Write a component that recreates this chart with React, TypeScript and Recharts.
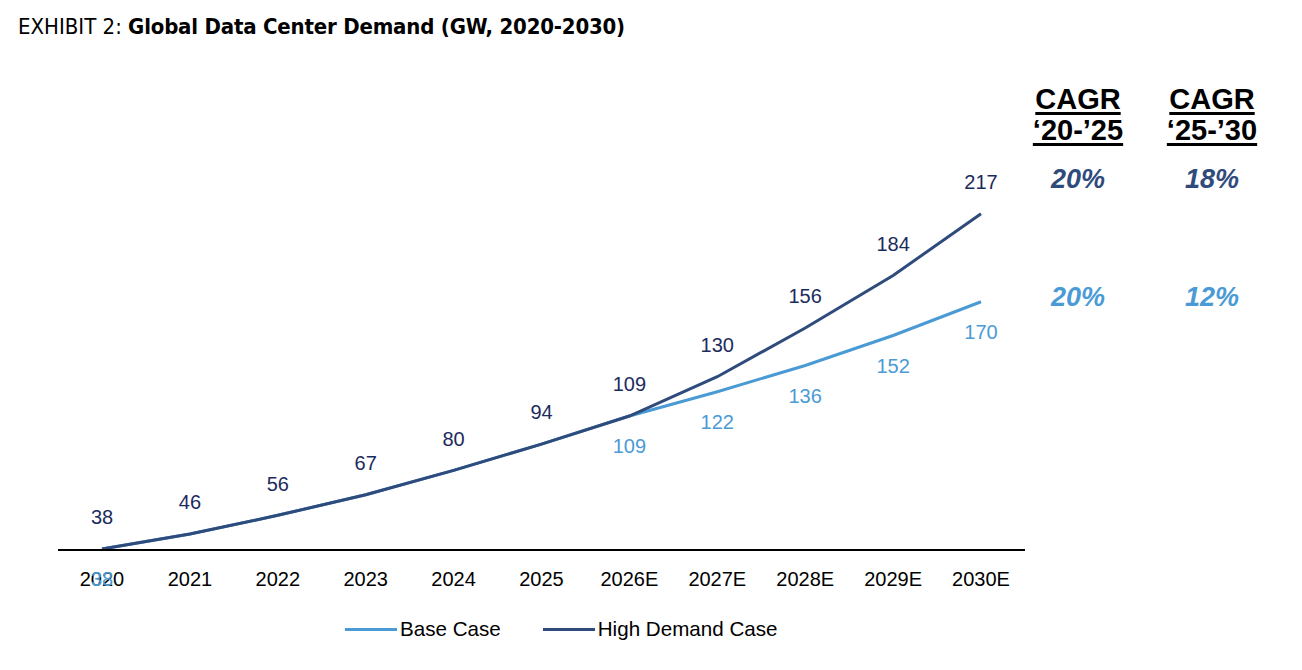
import React from "react";
import { LineChart, Line, XAxis, YAxis, LabelList } from "recharts";

const years = ["2020", "2021", "2022", "2023", "2024", "2025", "2026E", "2027E", "2028E", "2029E", "2030E"];
const baseCase = [38, 46, 56, 67, 80, 94, 109, 122, 136, 152, 170];
const highDemand = [38, 46, 56, 67, 80, 94, 109, 130, 156, 184, 217];
const cagrHeaders = ["‘20-’25", "‘25-’30"];
const cagrHigh = ["20%", "18%"];
const cagrBase = ["20%", "12%"];

const DARK = "#2f4b7c";
const DARK_TEXT = "#1c2b5e";
const LIGHT = "#4a9bd5";
const FONT = "'Liberation Sans', Arial, sans-serif";

const data = years.map((y, i) => ({ year: y, base: baseCase[i], high: highDemand[i] }));

const HighLabel = (props: any) => {
  const { x, y, value } = props;
  return (
    <text x={x} y={y - 30} textAnchor="middle" dominantBaseline="middle" fill={DARK_TEXT} fontSize={20} fontFamily={FONT}>
      {value}
    </text>
  );
};

const BaseLabel = (props: any) => {
  const { x, y, value, index } = props;
  // labels for 2021-2025 sit under the high demand ones in the source, so only show the split years
  if (index > 0 && index < 6) return null;
  return (
    <text x={x} y={y + 32} textAnchor="middle" dominantBaseline="middle" fill={LIGHT} fontSize={20} fontFamily={FONT}>
      {value}
    </text>
  );
};

export default function App() {
  return (
    <div style={{ position: "absolute", left: 0, top: 0, width: 1302, height: 670, background: "#fff", fontFamily: FONT }}>
      <div style={{ position: "absolute", left: 18, top: 14, fontSize: 22, whiteSpace: "nowrap", fontFamily: "'DejaVu Sans Condensed', 'DejaVu Sans', sans-serif", color: "#000" }}>
        <span style={{ fontWeight: 300 }}>EXHIBIT 2: </span>
        <span style={{ fontWeight: 700, letterSpacing: -0.2 }}>Global Data Center Demand (GW, 2020-2030)</span>
      </div>

      <div style={{ position: "absolute", left: 0, top: 0 }}>
        <LineChart width={1302} height={670} data={data} margin={{ top: 150, left: 58, right: 277, bottom: 90 }}>
          <XAxis
            dataKey="year"
            height={30}
            padding={{ left: 44, right: 44 }}
            axisLine={{ stroke: "#000", strokeWidth: 2 }}
            tickLine={false}
            tickMargin={16}
            tick={{ fill: "#000", fontSize: 20, fontFamily: FONT }}
            interval={0}
          />
          <YAxis hide domain={[37.5, 251]} />
          <Line type="linear" dataKey="base" stroke={LIGHT} strokeWidth={3} dot={false} isAnimationActive={false}>
            <LabelList dataKey="base" content={BaseLabel} />
          </Line>
          <Line type="linear" dataKey="high" stroke={DARK} strokeWidth={3} dot={false} isAnimationActive={false}>
            <LabelList dataKey="high" content={HighLabel} />
          </Line>
        </LineChart>
      </div>

      {cagrHeaders.map((h, i) => (
        <div key={h} style={{ position: "absolute", left: 1078 + i * 134 - 60, top: 84, width: 120, textAlign: "center", fontWeight: 700, fontSize: 29, lineHeight: "31px", color: "#000" }}>
          <div><span style={{ textDecoration: "underline", textDecorationThickness: 3, textUnderlineOffset: 3 }}>CAGR</span></div>
          <div><span style={{ textDecoration: "underline", textDecorationThickness: 3, textUnderlineOffset: 3 }}>{h}</span></div>
        </div>
      ))}
      {cagrHigh.map((v, i) => (
        <div key={"h" + i} style={{ position: "absolute", left: 1078 + i * 134 - 60, top: 164, width: 120, textAlign: "center", fontWeight: 700, fontStyle: "italic", fontSize: 27, color: DARK }}>
          {v}
        </div>
      ))}
      {cagrBase.map((v, i) => (
        <div key={"b" + i} style={{ position: "absolute", left: 1078 + i * 134 - 60, top: 282, width: 120, textAlign: "center", fontWeight: 700, fontStyle: "italic", fontSize: 27, color: LIGHT }}>
          {v}
        </div>
      ))}

      <div style={{ position: "absolute", left: 345, top: 617, display: "flex", gap: 42, fontSize: 20.6, color: "#000", whiteSpace: "nowrap" }}>
        <div style={{ display: "flex", alignItems: "center" }}>
          <span style={{ display: "inline-block", width: 52, height: 3, background: LIGHT, marginRight: 3 }} />
          Base Case
        </div>
        <div style={{ display: "flex", alignItems: "center" }}>
          <span style={{ display: "inline-block", width: 52, height: 3, background: DARK, marginRight: 3 }} />
          High Demand Case
        </div>
      </div>
    </div>
  );
}
